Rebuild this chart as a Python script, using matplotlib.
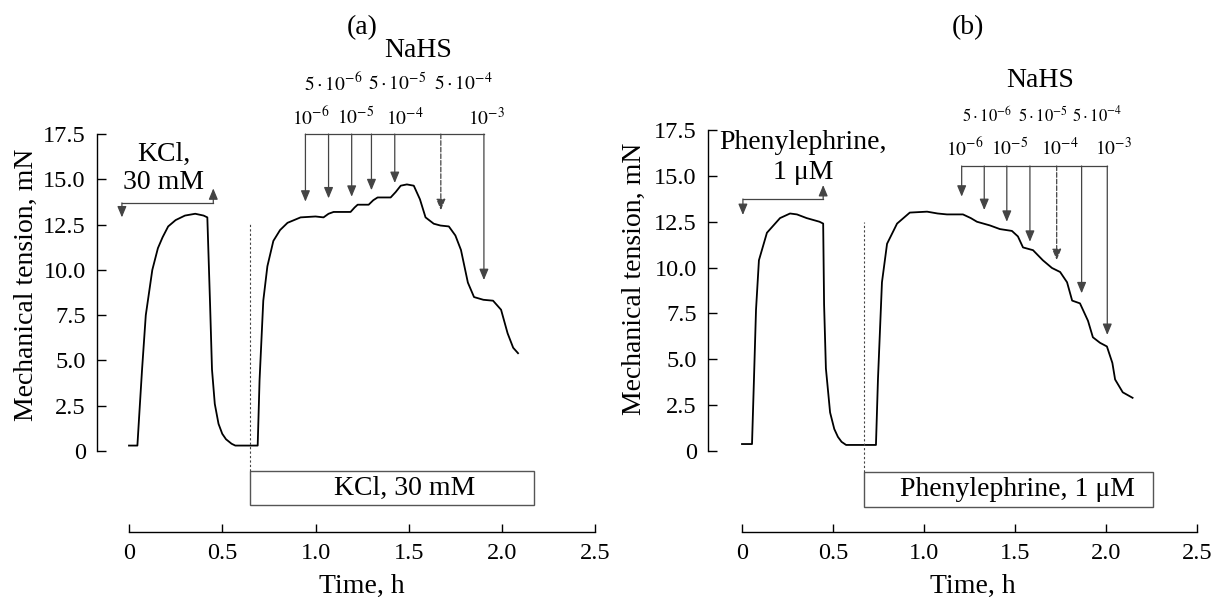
import matplotlib
matplotlib.use("Agg")
import matplotlib.pyplot as plt
from matplotlib.patches import Rectangle

plt.rcParams['font.family'] = ['Liberation Serif', 'DejaVu Serif']
plt.rcParams['mathtext.fontset'] = 'stix'

# ---- data (time in h, tension in mN) ----
time_a = [0.0, 0.045, 0.055, 0.07, 0.09, 0.125, 0.155, 0.18, 0.21, 0.25, 0.30, 0.355,
          0.40, 0.42, 0.435, 0.445, 0.46, 0.48, 0.50, 0.52, 0.55, 0.57, 0.69, 0.70,
          0.72, 0.742, 0.774, 0.81, 0.85, 0.92, 1.0, 1.043, 1.07, 1.097, 1.188, 1.21,
          1.226, 1.285, 1.31, 1.333, 1.403, 1.43, 1.457, 1.49, 1.527, 1.56, 1.59, 1.634,
          1.67, 1.715, 1.75, 1.78, 1.817, 1.85, 1.9, 1.952, 1.995, 2.03, 2.06, 2.086]
tension_a = [0.3, 0.3, 2.0, 4.5, 7.5, 10.0, 11.2, 11.8, 12.4, 12.75, 13.0, 13.1,
             13.0, 12.9, 8.0, 4.5, 2.6, 1.5, 0.95, 0.65, 0.4, 0.3, 0.3, 3.9,
             8.3, 10.2, 11.6, 12.2, 12.6, 12.9, 12.95, 12.9, 13.1, 13.2, 13.2, 13.45,
             13.6, 13.6, 13.85, 14.0, 14.0, 14.3, 14.65, 14.72, 14.65, 13.9, 12.9, 12.55,
             12.45, 12.4, 11.9, 11.1, 9.3, 8.5, 8.35, 8.3, 7.8, 6.5, 5.7, 5.4]

time_b = [0.0, 0.055, 0.066, 0.077, 0.093, 0.137, 0.209, 0.264, 0.302, 0.355, 0.426, 0.446,
          0.451, 0.461, 0.484, 0.507, 0.527, 0.547, 0.572, 0.736, 0.747, 0.769, 0.797, 0.852,
          0.922, 1.017, 1.075, 1.126, 1.214, 1.257, 1.291, 1.362, 1.417, 1.483, 1.516, 1.544,
          1.599, 1.653, 1.703, 1.748, 1.786, 1.814, 1.857, 1.901, 1.928, 1.967, 2.005, 2.035,
          2.05, 2.092, 2.146]
tension_b = [0.38, 0.38, 4.0, 7.7, 10.4, 11.9, 12.7, 12.95, 12.9, 12.7, 12.5, 12.4,
             8.0, 4.5, 2.1, 1.2, 0.77, 0.5, 0.33, 0.33, 3.9, 9.2, 11.3, 12.4,
             13.0, 13.05, 12.95, 12.9, 12.9, 12.7, 12.5, 12.3, 12.1, 12.0, 11.7, 11.1,
             10.95, 10.4, 9.98, 9.76, 9.2, 8.2, 8.05, 7.1, 6.2, 5.9, 5.7, 4.8,
             3.9, 3.2, 2.9]

# NaHS additions: arrow time, arrow tip tension, dashed?
arrow_t_a = [0.946, 1.07, 1.194, 1.30, 1.425, 1.672, 1.903]
arrow_tip_a = [13.77, 13.95, 14.04, 14.4, 14.8, 13.3, 9.44]
arrow_dash_a = [False, False, False, False, False, True, False]
arrow_t_b = [1.207, 1.331, 1.455, 1.582, 1.729, 1.866, 2.007]
arrow_tip_b = [13.87, 13.14, 12.5, 11.41, 10.41, 8.6, 6.33]
arrow_dash_b = [False, False, False, False, True, False, False]

low_labels = [r'$10^{-6}$', r'$10^{-5}$', r'$10^{-4}$', r'$10^{-3}$']
high_labels = [r'$5\cdot10^{-6}$', r'$5\cdot10^{-5}$', r'$5\cdot10^{-4}$']
low_pos_a = [0.973, 1.215, 1.478, 1.914]
high_pos_a = [1.097, 1.44, 1.79]
low_pos_b = [1.226, 1.473, 1.748, 2.039]
high_pos_b = [1.346, 1.653, 1.950]

y_ticks = [0, 2.5, 5.0, 7.5, 10.0, 12.5, 15.0, 17.5]
y_tick_labels = ['0', '2.5', '5.0', '7.5', '10.0', '12.5', '15.0', '17.5']
x_ticks = [0, 0.5, 1.0, 1.5, 2.0, 2.5]
x_tick_labels = ['0', '0.5', '1.0', '1.5', '2.0', '2.5']

W, H = 1216, 597
LINE = '#444444'


def place(ax, x0, sx, y0, sy, xlim, ylim):
    # put the axes so that data maps onto the pixel grid of the reference
    l = x0 + sx * xlim[0]
    r = x0 + sx * xlim[1]
    t = y0 - sy * ylim[1]
    b = y0 - sy * ylim[0]
    ax.set_position([l / W, 1 - b / H, (r - l) / W, (b - t) / H])
    ax.set_xlim(*xlim)
    ax.set_ylim(*ylim)


def arrow(ax, x, y_from, y_to, dashed=False):
    ax.annotate('', xy=(x, y_to), xytext=(x, y_from),
                arrowprops=dict(arrowstyle='-|>,head_length=0.6,head_width=0.25',
                                color=LINE, lw=0.9, shrinkA=0, shrinkB=0,
                                linestyle='--' if dashed else '-',
                                mutation_scale=11))


def panel(ax, t, v, yspine, xspine, arrows_t, arrows_tip, arrows_dash, top,
          drug_lab, drug_xy, bracket, box, box_text, box_text_x, dash_top,
          high_pos, low_pos, high_y, low_y, high_size, nahs_xy, title, title_xy,
          ylab_xy, xlab_xy):
    ax.patch.set_alpha(0)
    ax.plot(t, v, color='black', lw=1.3, clip_on=False)

    for s in ['top', 'right']:
        ax.spines[s].set_visible(False)
    ax.spines['left'].set_position(('data', yspine))
    ax.spines['left'].set_bounds(0, 17.5)
    ax.spines['bottom'].set_position(('data', xspine))
    ax.spines['bottom'].set_bounds(0, 2.5)
    for s in ['left', 'bottom']:
        ax.spines[s].set_linewidth(1.0)
    ax.set_yticks(y_ticks, y_tick_labels)
    ax.set_xticks(x_ticks, x_tick_labels)
    ax.tick_params(axis='y', direction='in', length=6.5, width=1, pad=8, labelsize=17.5)
    ax.tick_params(axis='x', direction='in', length=6, width=1, pad=8, labelsize=17.5)

    # NaHS arrows
    ax.plot([arrows_t[0], arrows_t[-1]], [top, top], color=LINE, lw=0.9)
    for x, tip, d in zip(arrows_t, arrows_tip, arrows_dash):
        arrow(ax, x, top, tip, d)
    for x, lab in zip(high_pos, high_labels):
        ax.text(x, high_y, lab, ha='center', va='center', fontsize=high_size)
    for x, lab in zip(low_pos, low_labels):
        ax.text(x, low_y, lab, ha='center', va='center', fontsize=14)
    ax.text(*nahs_xy, 'NaHS', ha='center', va='center', fontsize=20)
    ax.text(*title_xy, title, ha='center', va='center', fontsize=20)

    # first application bracket
    x1, x2, yb, ydown, yup = bracket
    ax.plot([x1, x2], [yb, yb], color=LINE, lw=0.9)
    arrow(ax, x1, yb, ydown)
    arrow(ax, x2, yb, yup)
    ax.text(drug_xy[0], drug_xy[1], drug_lab[0], ha='center', va='center', fontsize=20)
    ax.text(drug_xy[0], drug_xy[2], drug_lab[1], ha='center', va='center', fontsize=20)

    # wash-in box and dashed marker
    bx1, bx2, by1, by2 = box
    ax.add_patch(Rectangle((bx1, by2), bx2 - bx1, by1 - by2, fill=False,
                           edgecolor='#555555', lw=1.0, clip_on=False))
    ax.text(box_text_x, (by1 + by2) / 2, box_text, ha='center', va='center', fontsize=20)
    ax.plot([bx1, bx1], [by1, dash_top], color=LINE, lw=0.8, ls=(0, (2, 2)))

    ax.text(*ylab_xy, 'Mechanical tension, mN', rotation=90, ha='center',
            va='center', fontsize=20)
    ax.text(*xlab_xy, 'Time, h', ha='center', va='center', fontsize=20)


fig = plt.figure(figsize=(W / 100, H / 100), dpi=100)
ax_a = fig.add_axes([0, 0, 1, 1])
ax_b = fig.add_axes([0, 0, 1, 1])
place(ax_a, 129, 186.5, 451, 18.11, (-0.25, 2.6), (-5.5, 18.5))
place(ax_b, 742, 182, 451, 18.34, (-0.25, 2.6), (-5.5, 18.5))

panel(ax_a, time_a, tension_a, -0.172, -4.47, arrow_t_a, arrow_tip_a, arrow_dash_a,
      17.5, ('KCl,', '30 mM'), (0.185, 16.35, 14.85),
      (-0.038, 0.452, 13.7, 12.9, 14.5), (0.65, 2.17, -1.1, -2.98),
      'KCl, 30 mM', 1.48, 12.6, high_pos_a, low_pos_a, 20.3, 18.4, 14,
      (1.548, 22.1), '(a)', (1.253, 23.4), (-0.548, 9.2), (1.25, -7.5))

panel(ax_b, time_b, tension_b, -0.187, -4.42, arrow_t_b, arrow_tip_b, arrow_dash_b,
      15.54, ('Phenylephrine,', '1 μM'), (0.335, 16.8, 15.2),
      (0.005, 0.446, 13.74, 12.87, 14.5), (0.67, 2.258, -1.15, -3.05),
      'Phenylephrine, 1 μM', 1.511, 12.5, high_pos_b, low_pos_b, 18.3, 16.5, 12,
      (1.637, 20.2), '(b)', (1.242, 23.1), (-0.593, 9.4), (1.27, -7.4))

fig.savefig('out.png', dpi=100)
